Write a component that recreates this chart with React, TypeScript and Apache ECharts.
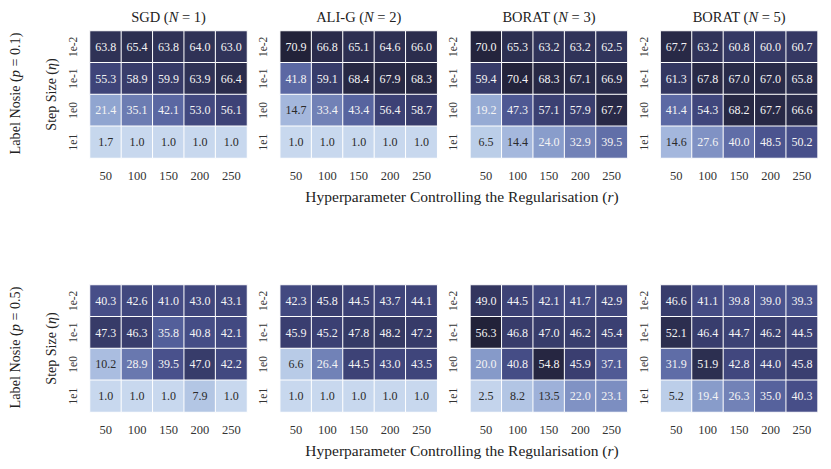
import React, { useEffect, useRef } from "react";
import * as echarts from "echarts";

const xLabels = ["50", "100", "150", "200", "250"];
const yLabels = ["1e-2", "1e-1", "1e0", "1e1"];
const methods = ["SGD", "ALI-G", "BORAT", "BORAT"];
const nValues = ["1", "2", "3", "5"];
const noiseLevels = ["0.1", "0.5"];

// rows: 1e-2, 1e-1, 1e0, 1e1 ; columns: r = 50..250
const sgdP01 = [
  [63.8, 65.4, 63.8, 64.0, 63.0],
  [55.3, 58.9, 59.9, 63.9, 66.4],
  [21.4, 35.1, 42.1, 53.0, 56.1],
  [1.7, 1.0, 1.0, 1.0, 1.0],
];
const aligP01 = [
  [70.9, 66.8, 65.1, 64.6, 66.0],
  [41.8, 59.1, 68.4, 67.9, 68.3],
  [14.7, 33.4, 43.4, 56.4, 58.7],
  [1.0, 1.0, 1.0, 1.0, 1.0],
];
const borat3P01 = [
  [70.0, 65.3, 63.2, 63.2, 62.5],
  [59.4, 70.4, 68.3, 67.1, 66.9],
  [19.2, 47.3, 57.1, 57.9, 67.7],
  [6.5, 14.4, 24.0, 32.9, 39.5],
];
const borat5P01 = [
  [67.7, 63.2, 60.8, 60.0, 60.7],
  [61.3, 67.8, 67.0, 67.0, 65.8],
  [41.4, 54.3, 68.2, 67.7, 66.6],
  [14.6, 27.6, 40.0, 48.5, 50.2],
];
const sgdP05 = [
  [40.3, 42.6, 41.0, 43.0, 43.1],
  [47.3, 46.3, 35.8, 40.8, 42.1],
  [10.2, 28.9, 39.5, 47.0, 42.2],
  [1.0, 1.0, 1.0, 7.9, 1.0],
];
const aligP05 = [
  [42.3, 45.8, 44.5, 43.7, 44.1],
  [45.9, 45.2, 47.8, 48.2, 47.2],
  [6.6, 26.4, 44.5, 43.0, 43.5],
  [1.0, 1.0, 1.0, 1.0, 1.0],
];
const borat3P05 = [
  [49.0, 44.5, 42.1, 41.7, 42.9],
  [56.3, 46.8, 47.0, 46.2, 45.4],
  [20.0, 40.8, 54.8, 45.9, 37.1],
  [2.5, 8.2, 13.5, 22.0, 23.1],
];
const borat5P05 = [
  [46.6, 41.1, 39.8, 39.0, 39.3],
  [52.1, 46.4, 44.7, 46.2, 44.5],
  [31.9, 51.9, 42.8, 44.0, 45.8],
  [5.2, 19.4, 26.3, 35.0, 40.3],
];

const panelRows = [
  [sgdP01, aligP01, borat3P01, borat5P01],
  [sgdP05, aligP05, borat3P05, borat5P05],
];

const cmap = [
  "#c8d8ee", "#b8cbe7", "#a3b6dc", "#8ea3cf", "#7c8ec1", "#6a79b0",
  "#5865a0", "#48508b", "#3b4073", "#2f3256", "#222239",
];

const FONT = "'Liberation Serif', 'DejaVu Serif', serif";

export default function App() {
  const ref = useRef<HTMLDivElement>(null);
  useEffect(() => {
    if (!ref.current) return;
    const chart = echarts.init(ref.current, null, { renderer: "svg" });

    const panelLeft0 = 90;
    const panelStep = 190.2;
    const panelW = 157;
    const panelH = 127;
    const rowTops = [31, 285];

    const grid: any[] = [];
    const xAxis: any[] = [];
    const yAxis: any[] = [];
    const series: any[] = [];
    const visualMap: any[] = [];
    const graphic: any[] = [];

    panelRows.forEach((row, ri) => {
      const all = row.flat(2) as number[];
      const vmin = Math.min(...all);
      const vmax = Math.max(...all);
      row.forEach((mat, ci) => {
        const idx = ri * 4 + ci;
        const left = panelLeft0 + ci * panelStep;
        grid.push({ left, top: rowTops[ri], width: panelW, height: panelH });
        xAxis.push({
          type: "category",
          gridIndex: idx,
          data: xLabels,
          axisLine: { show: false },
          axisTick: { show: false },
          splitLine: { show: false },
          axisLabel: { margin: 11, fontFamily: FONT, fontSize: 12.5, color: "#333" },
        });
        yAxis.push({
          type: "category",
          gridIndex: idx,
          data: yLabels,
          inverse: true,
          axisLine: { show: false },
          axisTick: { show: false },
          splitLine: { show: false },
          axisLabel: { margin: 11, rotate: 90, fontFamily: FONT, fontSize: 11.5, color: "#333" },
        });
        const data: any[] = [];
        mat.forEach((r, yi) =>
          r.forEach((v, xi) => {
            const t = (v - vmin) / (vmax - vmin);
            data.push({
              value: [xi, yi, v],
              label: {
                color: t < 0.245 ? "#2a2a2a" : "#f4f4f4",
                fontFamily: FONT,
                fontSize: 12,
              },
            });
          })
        );
        series.push({
          type: "heatmap",
          xAxisIndex: idx,
          yAxisIndex: idx,
          data,
          itemStyle: { borderColor: "#ffffff", borderWidth: 1 },
          label: {
            show: true,
            fontFamily: FONT,
            fontSize: 12,
            formatter: (p: any) => p.value[2].toFixed(1),
          },
          emphasis: { disabled: true },
        });
        visualMap.push({
          type: "continuous",
          show: false,
          seriesIndex: idx,
          dimension: 2,
          min: vmin,
          max: vmax,
          inRange: { color: cmap },
        });
        if (ri === 0) {
          graphic.push({
            type: "text",
            x: left + panelW / 2,
            y: 17,
            style: {
              text: `{a|${methods[ci]} (}{i|N}{a| = ${nValues[ci]})}`,
              align: "center",
              verticalAlign: "middle",
              rich: {
                a: { fontFamily: FONT, fontSize: 14.5, fill: "#222" },
                i: { fontFamily: FONT, fontSize: 14.5, fontStyle: "italic", fill: "#222" },
              },
            },
          });
        }
      });
      const cy = rowTops[ri] + panelH / 2;
      graphic.push({
        type: "text",
        x: 462,
        y: rowTops[ri] + 165,
        style: {
          text: "{a|Hyperparameter Controlling the Regularisation (}{i|r}{a|)}",
          align: "center",
          verticalAlign: "middle",
          rich: {
            a: { fontFamily: FONT, fontSize: 15.5, fill: "#222" },
            i: { fontFamily: FONT, fontSize: 15.5, fontStyle: "italic", fill: "#222" },
          },
        },
      });
      graphic.push({
        type: "text",
        x: 51,
        y: cy,
        rotation: Math.PI / 2,
        style: {
          text: "{a|Step Size (}{i|η}{a|)}",
          align: "center",
          verticalAlign: "middle",
          rich: {
            a: { fontFamily: FONT, fontSize: 14, fill: "#222" },
            i: { fontFamily: FONT, fontSize: 14, fontStyle: "italic", fill: "#222" },
          },
        },
      });
      graphic.push({
        type: "text",
        x: 15,
        y: cy - 1,
        rotation: Math.PI / 2,
        style: {
          text: `{a|Label Nosie (}{i|p}{a| = ${noiseLevels[ri]})}`,
          align: "center",
          verticalAlign: "middle",
          rich: {
            a: { fontFamily: FONT, fontSize: 14.2, fill: "#222" },
            i: { fontFamily: FONT, fontSize: 14.2, fontStyle: "italic", fill: "#222" },
          },
        },
      });
    });

    chart.setOption({
      animation: false,
      backgroundColor: "#ffffff",
      textStyle: { fontFamily: FONT },
      grid,
      xAxis,
      yAxis,
      visualMap,
      series,
      graphic,
    });
    return () => chart.dispose();
  }, []);
  return (
    <div
      ref={ref}
      style={{ position: "fixed", left: 0, top: 0, width: 831, height: 469 }}
    />
  );
}
